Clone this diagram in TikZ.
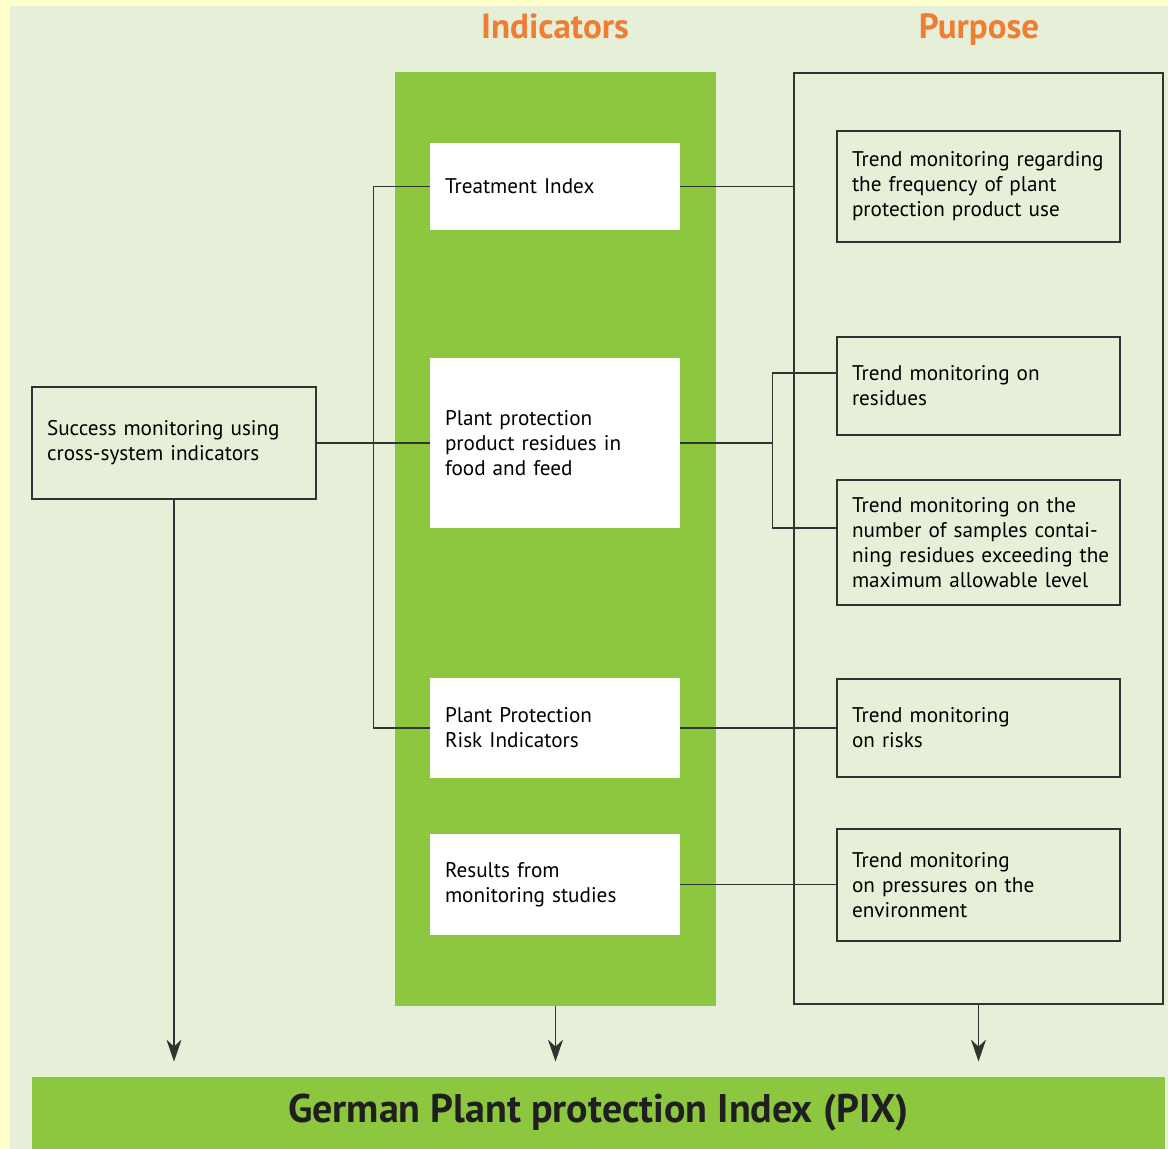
\documentclass[tikz,border=0pt]{standalone}
\usepackage{fontspec}
\setmainfont{PT Sans}
\usetikzlibrary{positioning, arrows.meta}

\definecolor{bgpale}{HTML}{E6F0D9}
\definecolor{rimyellow}{HTML}{FFFFCC}
\definecolor{leafgreen}{HTML}{8DC63F}
\definecolor{titleorange}{HTML}{F07D32}
\definecolor{linegray}{HTML}{333333}

\begin{document}
\begin{tikzpicture}[
    x=0.5pt, y=-0.5pt,
    body_font/.style={font=\fontsize{10.6}{12.5}\selectfont},
    white_box/.style={body_font, fill=white, inner xsep=7.5pt, text width=110pt,
        align=left},
    purpose_box/.style={body_font, draw=linegray, line width=0.65pt, inner xsep=7.5pt,
        text width=126.5pt, align=left},
    title_style/.style={font=\fontsize{17.5}{20}\selectfont\bfseries, text=titleorange,
        anchor=base},
    link_style/.style={draw=linegray, line width=0.65pt},
    arrow_style/.style={link_style, -{Stealth[length=11pt, width=7.5pt, inset=3.5pt]},
        shorten >=7.5pt}
]
    % Background
    \useasboundingbox (0,0) rectangle (1168,1149);
    \fill[rimyellow] (0,0) rectangle (1168,1149);
    \fill[bgpale] (10,6) rectangle (1168,1149);

    % Columns
    \node[fill=leafgreen, minimum width=160.5pt, minimum height=467pt, inner sep=0pt]
        (indic) at (555.5,539) {};
    \node[link_style, minimum width=184.5pt, minimum height=465.5pt, inner sep=0pt]
        (purpose) at (978.5,538.5) {};
    \node[title_style] (indic_title) at (555,39) {Indicators};
    \node[title_style] (purpose_title) at (979,39) {Purpose};

    % Bottom bar
    \node[fill=leafgreen, minimum width=566.5pt, minimum height=36pt, inner sep=0pt,
        font=\fontsize{20}{24}\selectfont\bfseries, text=black!88]
        (pix) at (598.5,1113) {German Plant protection Index (PIX)};

    % Indicators
    \node[white_box, minimum height=43.5pt] (treat) at (555,186.5) {Treatment Index};
    \node[white_box, minimum height=85pt] (resid) at (555,443)
        {Plant protection\\product residues in\\food and feed};
    \node[white_box, minimum height=50pt] (risk) at (555,728)
        {Plant Protection\\Risk Indicators};
    \node[white_box, minimum height=50.5pt] (results) at (555,884.5)
        {Results from\\monitoring studies};

    % Success monitoring
    \node[purpose_box, text width=127pt, minimum height=56pt]
        (success) at (174,443)
        {Success monitoring using\\cross-system indicators};

    % Purposes
    \node[purpose_box, minimum height=55.5pt] (pur1) at (978.5,186.5)
        {\mbox{Trend monitoring regarding}\\the frequency of plant\\protection product use};
    \node[purpose_box, minimum height=49pt] (pur2) at (978.5,386)
        {Trend monitoring on\\residues};
    \node[purpose_box, minimum height=62.5pt] (pur3) at (978.5,542.5)
        {Trend monitoring on the\\\mbox{number of samples contai-}\\\mbox{ning residues exceeding the}\\maximum allowable level};
    \node[purpose_box, minimum height=49pt] (pur4) at (978.5,728)
        {Trend monitoring\\on risks};
    \node[purpose_box, minimum height=56pt] (pur5) at (978.5,885)
        {Trend monitoring\\on pressures on the\\environment};

    % Links
    \draw[link_style] (success.east) -- (resid.west);
    \draw[link_style] (treat.west) -- ++(-56,0) |- (risk.west);
    \draw[link_style] (treat.east) -- (purpose.west |- treat.east);
    \draw[link_style] (resid.east) -- ++(93,0);
    \draw[link_style] ([yshift=6.5pt]pur2.west) -- ++(-64,0) |- ([yshift=7.25pt]pur3.west);
    \draw[link_style] (risk.east) -- (pur4.west);
    \draw[link_style] (results.east) -- (results.east -| pur5.west);

    % Arrows to PIX
    \draw[arrow_style] (success.south) -- (success.south |- pix.north);
    \draw[arrow_style] (indic.south) -- (indic.south |- pix.north);
    \draw[arrow_style] (purpose.south) -- (purpose.south |- pix.north);
\end{tikzpicture}
\end{document}
